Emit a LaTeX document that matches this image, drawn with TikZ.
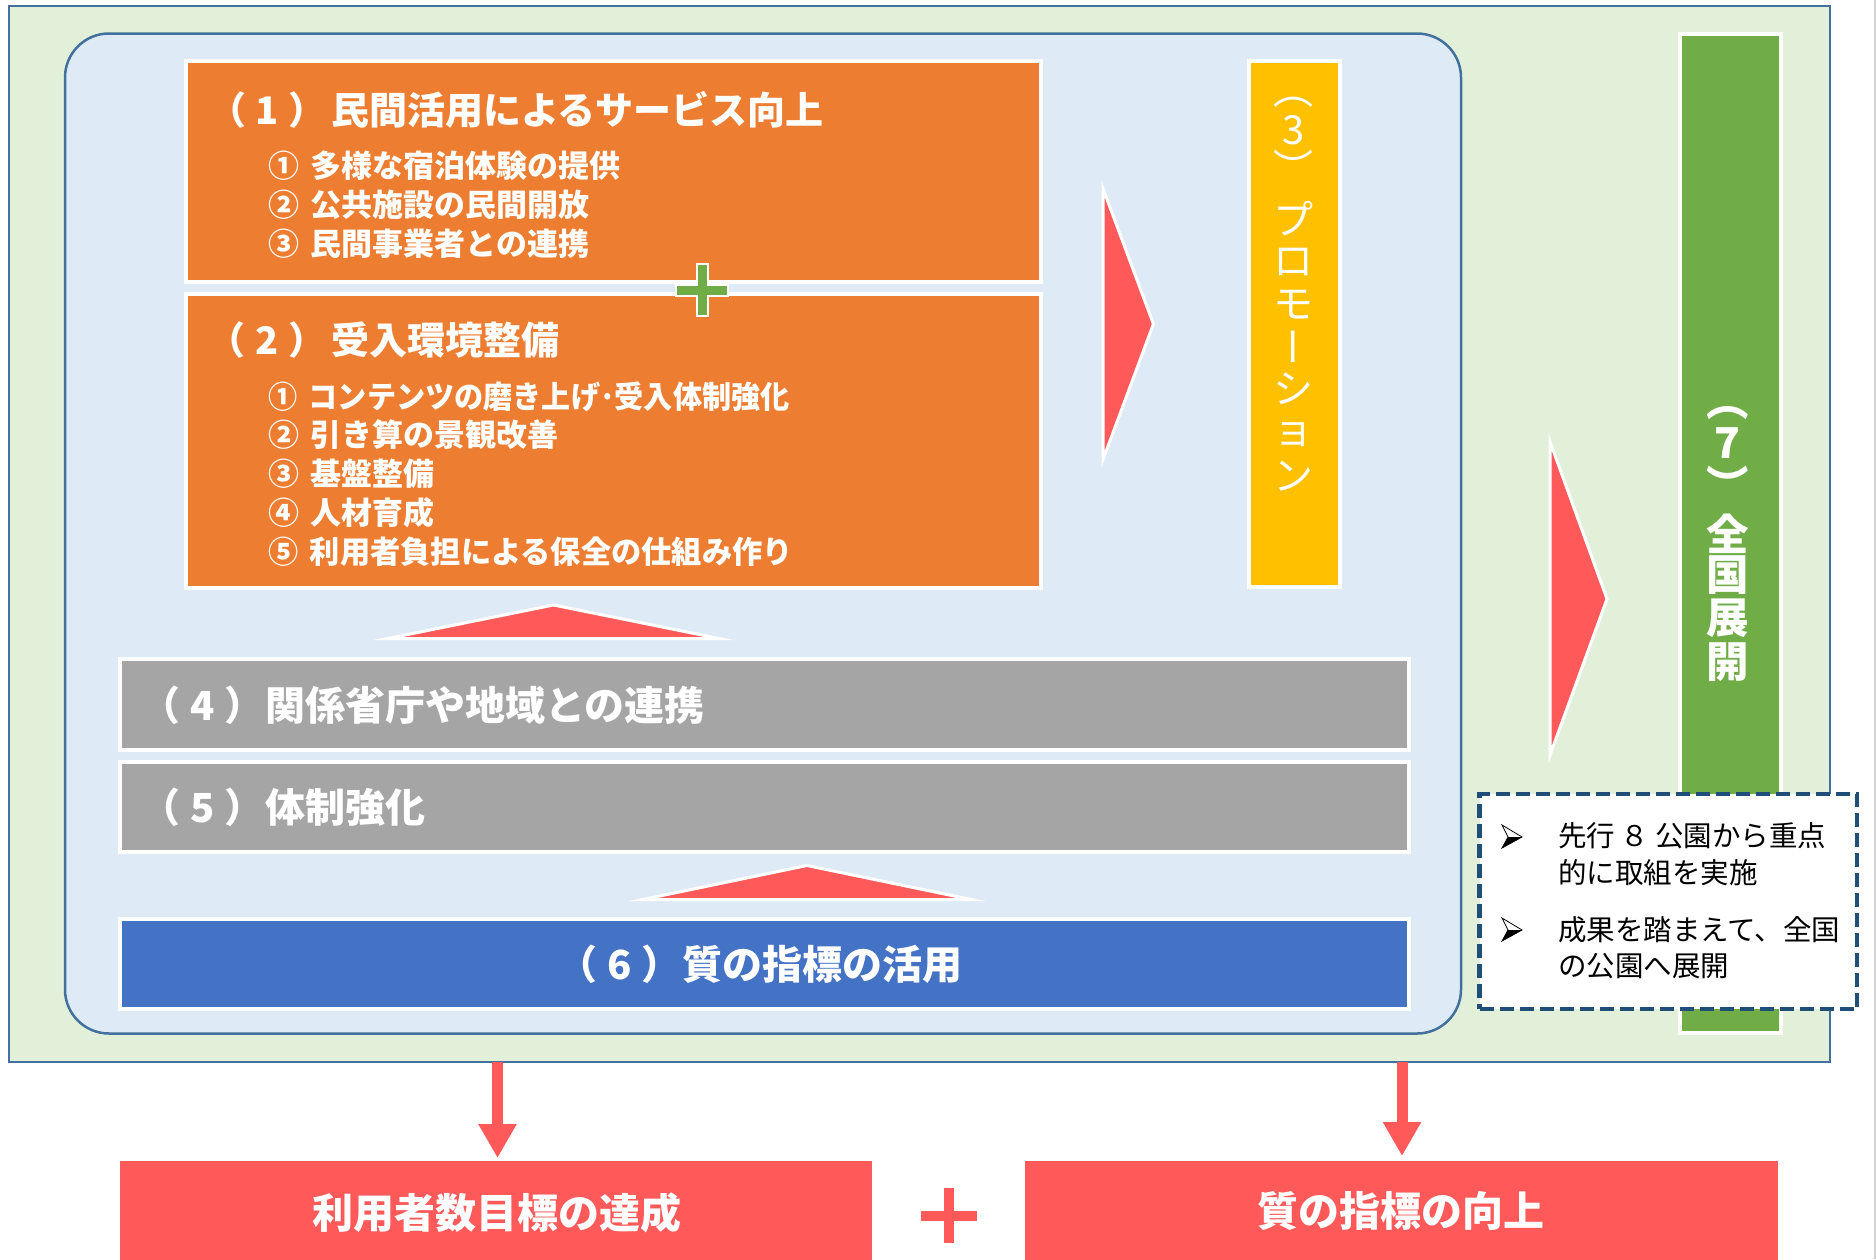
\documentclass[tikz,border=0pt]{standalone}
\usepackage{fontspec}
\usepackage{graphicx}
\setmainfont{Noto Sans CJK JP}
\newfontfamily\vjp[Vertical=Alternates]{Noto Sans CJK JP}
\usetikzlibrary{arrows.meta}
\definecolor{lgreen}{HTML}{E2F0D9}
\definecolor{lblue}{HTML}{DEEBF7}
\definecolor{framec}{HTML}{41719C}
\definecolor{oran}{HTML}{ED7D31}
\definecolor{yell}{HTML}{FFC000}
\definecolor{gbar}{HTML}{70AD47}
\definecolor{gry}{HTML}{A5A5A5}
\definecolor{bblue}{HTML}{4472C4}
\definecolor{tred}{HTML}{FF5959}
\definecolor{navy}{HTML}{1F4E79}
\newcommand{\fs}[1]{\fontsize{#1pt}{#1pt}\selectfont}
\newcommand{\pnum}[1]{（\kern0.25em#1\kern0.25em）}
\begin{document}
\begin{tikzpicture}[x=1pt,y=-1pt,
  wbox/.style={draw=white, line width=4pt, inner sep=0pt, outer sep=0pt},
  txt/.style={text=white, inner sep=0pt, outer sep=0pt},
  ttla/.style={txt, font=\fs{38}\bfseries},
  ttlb/.style={txt, font=\fs{40}\bfseries},
  itm/.style={txt, font=\fs{31}\bfseries, anchor=west},
  vtc/.style={txt, font=\fs{40}},
  vtcv/.style={txt, font=\vjp\fs{40}},
  vtg/.style={txt, font=\fs{42.5}\bfseries},
  vtgv/.style={txt, font=\vjp\fs{42.5}\bfseries},
  btxt/.style={text=black, inner sep=0pt, font=\fs{28.5}, anchor=west},
  tri/.style={fill=tred, draw=white, line width=3pt, miter limit=25},
  redarrow/.style={draw=tred, line width=11pt, -{Triangle[width=36pt,length=34pt]}}
]
\useasboundingbox (0,0) rectangle (1876,1259);
\draw[gray!35, line width=1.5pt] (1875,0) -- (1875,1259);

% outer frame and inner rounded panel
\node[draw=framec, fill=lgreen, line width=2pt, inner sep=0pt, minimum width=1821pt, minimum height=1056pt] (outer) at (919.5,534) {};
\node[draw=framec, fill=lblue, line width=2.5pt, rounded corners=44pt, inner sep=0pt, minimum width=1396pt, minimum height=1000pt] (panel) at (763,533.5) {};

% orange boxes
\node[wbox, fill=oran, minimum width=855pt, minimum height=221pt] (o1) at (613.5,171.5) {};
\node[wbox, fill=oran, minimum width=855pt, minimum height=294pt] (o2) at (613.5,441) {};

\node[ttla] (n1) at (267.5,110) {\pnum{1}};
\node[ttla, anchor=west] (t1) at (331,110) {民間活用によるサービス向上};
\node[itm] (i11) at (268,166) {①\hspace{0.38em}多様な宿泊体験の提供};
\node[itm] (i12) at (268,205) {②\hspace{0.38em}公共施設の民間開放};
\node[itm] (i13) at (268,244) {③\hspace{0.38em}民間事業者との連携};

\node[ttla] (n2) at (267,340) {\pnum{2}};
\node[ttla, anchor=west] (t2) at (331,340) {受入環境整備};
\node[itm] (i21) at (268,397) {\scalebox{0.94}[1]{①\hspace{0.4em}コンテンツの磨き上げ･受入体制強化}};
\node[itm] (i22) at (268,435) {②\hspace{0.38em}引き算の景観改善};
\node[itm] (i23) at (268,474) {③\hspace{0.38em}基盤整備};
\node[itm] (i24) at (268,513) {④\hspace{0.38em}人材育成};
\node[itm] (i25) at (268,552) {\scalebox{0.975}[1]{⑤\hspace{0.39em}利用者負担による保全の仕組み作り}};

% green plus between (1) and (2)
\draw[fill=gbar, draw=white, line width=2pt] (696.5,264) -- (707.5,264) -- (707.5,284.5) -- (728,284.5) -- (728,295.5) -- (707.5,295.5) -- (707.5,316) -- (696.5,316) -- (696.5,295.5) -- (676,295.5) -- (676,284.5) -- (696.5,284.5) -- cycle;

% arrow triangle to promotion
\draw[tri] (1103,188.5) -- (1153.4,324) -- (1103,459.6) -- cycle;

% (3) promotion
\node[wbox, fill=yell, minimum width=91pt, minimum height=526pt] (y3) at (1294,324) {};
\node[vtcv] (v3a) at (1293.5,102) {（};
\node[vtc] (v3b) at (1293.5,130) {3};
\node[vtcv] (v3c) at (1293.5,167) {）};
\node[vtc] (v3d) at (1293.5,218.5) {プ};
\node[vtc] (v3e) at (1293.5,262) {ロ};
\node[vtc] (v3f) at (1293.5,305) {モ};
\node[vtcv] (v3g) at (1293.5,346.5) {ー};
\node[vtc] (v3h) at (1293.5,388.5) {シ};
\node[vtc] (v3i) at (1293.5,435) {ョ};
\node[vtc] (v3j) at (1293.5,476) {ン};

% (7) green bar
\node[wbox, fill=gbar, minimum width=101pt, minimum height=999pt] (g7) at (1730.5,533.5) {};
\node[vtgv] (v7a) at (1727.5,413.5) {（};
\node[vtg] (v7b) at (1727.5,443) {7};
\node[vtgv] (v7c) at (1727.5,483.5) {）};
\node[vtg] (v7d) at (1727.5,534) {全};
\node[vtg] (v7e) at (1727.5,575.5) {国};
\node[vtg] (v7f) at (1727.5,618.3) {展};
\node[vtg] (v7g) at (1727.5,661.7) {開};

% arrow triangle to (7)
\draw[tri] (1550,441.6) -- (1607,599) -- (1550,755) -- cycle;

% up triangle 1
\draw[tri] (388,638.5) -- (553.5,605) -- (719,638.5) -- cycle;

% gray boxes
\node[wbox, fill=gry, minimum width=1289.5pt, minimum height=90.5pt] (g4) at (764.25,704.25) {};
\node[ttlb] (n4) at (202.5,705.5) {\pnum{4}};
\node[ttlb, anchor=west] (t4) at (265,705.5) {関係省庁や地域との連携};
\node[wbox, fill=gry, minimum width=1289.5pt, minimum height=90pt] (g5) at (764.25,807) {};
\node[ttlb] (n5) at (202.5,807.5) {\pnum{5}};
\node[ttlb, anchor=west] (t5) at (265,807.5) {体制強化};

% up triangle 2
\draw[tri] (643,899.5) -- (807,865.5) -- (971,899.5) -- cycle;

% blue box (6)
\node[wbox, fill=bblue, minimum width=1289.5pt, minimum height=90pt] (b6) at (764.25,964) {};
\node[ttlb] (n6) at (619.5,964.5) {\pnum{6}};
\node[ttlb, anchor=west] (t6) at (682,964.5) {質の指標の活用};

% dashed note box
\node[draw=navy, fill=white, line width=4.5pt, dash pattern=on 14pt off 6pt, inner sep=0pt, minimum width=377.5pt, minimum height=215pt] (db) at (1668.25,901.5) {};
\foreach \cy in {836, 929}{
  \begin{scope}[shift={(1512,\cy)}]
    \fill[black] (-4,1) -- (10,1) -- (-10,12) -- cycle;
    \draw[black, line width=0.8pt, line join=miter] (-10,-11) -- (10,1) -- (-10,12) -- (-4,1) -- cycle;
  \end{scope}
}
\node[btxt] (l1) at (1558,836) {先行\hspace{0.2em}８\hspace{0.2em}公園から重点};
\node[btxt] (l2) at (1558,873) {的に取組を実施};
\node[btxt] (l3) at (1558,930) {成果を踏まえて、全国};
\node[btxt] (l4) at (1558,966) {の公園へ展開};

% bottom result boxes
\node[fill=tred, inner sep=0pt, minimum width=752pt, minimum height=99pt] (r1) at (496,1210.5) {};
\node[ttlb, font=\fs{41}\bfseries] (rt1) at (496.5,1213) {利用者数目標の達成};
\node[fill=tred, inner sep=0pt, minimum width=753pt, minimum height=99pt] (r2) at (1401.5,1210.5) {};
\node[ttlb, font=\fs{41}\bfseries] (rt2) at (1401,1211) {質の指標の向上};

% red plus
\fill[tred] (921,1211) rectangle (977,1221);
\fill[tred] (944,1188) rectangle (954,1243);

% down arrows
\coordinate (a1) at (497.5,1062);
\coordinate (e1) at (497.5,1158);
\coordinate (a2) at (1402,1062);
\coordinate (e2) at (1402,1156);
\draw[redarrow] (a1) -- (e1);
\draw[redarrow] (a2) -- (e2);
\end{tikzpicture}
\end{document}
